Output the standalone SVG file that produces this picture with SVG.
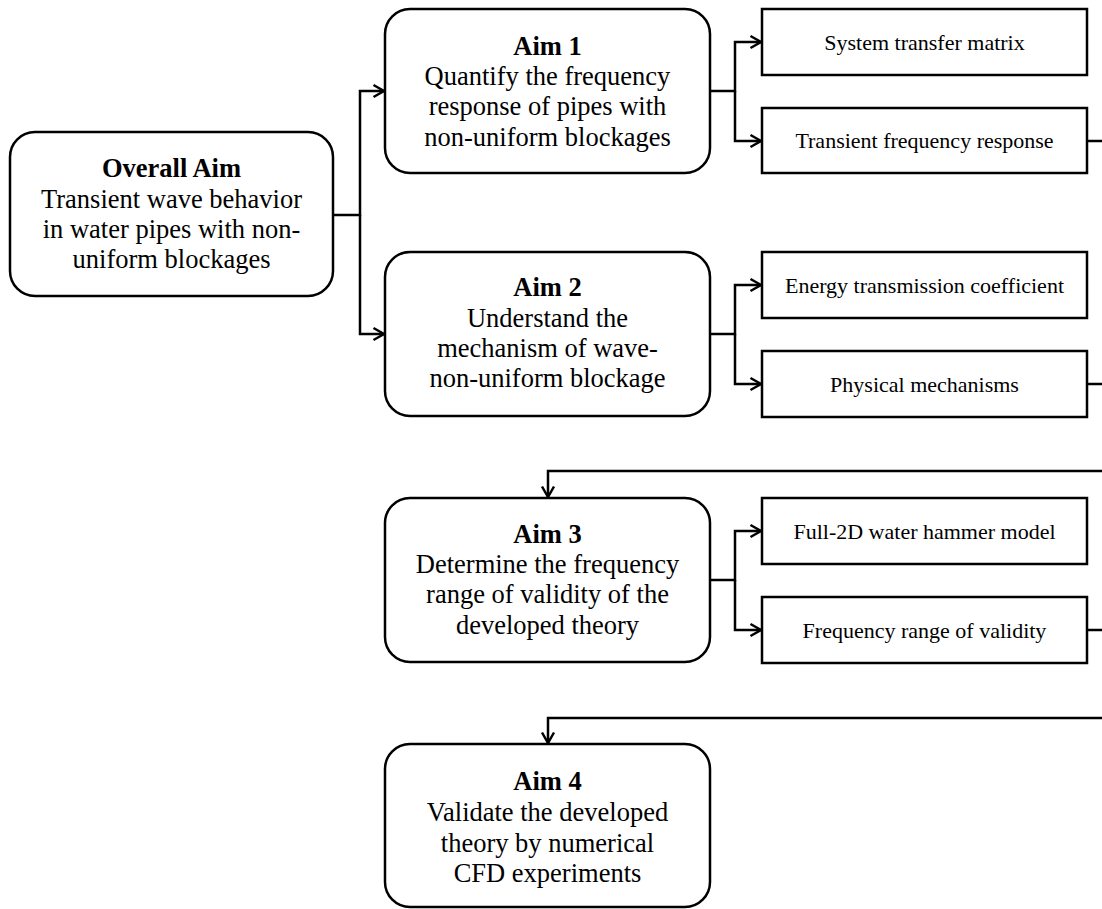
<svg xmlns="http://www.w3.org/2000/svg" width="1102" height="909" viewBox="0 0 1102 909">
<style>
.aim{fill:#fff;stroke:#000;stroke-width:2.5}
.sub{fill:#fff;stroke:#000;stroke-width:2.5}
.t{font-family:"Liberation Serif","Times New Roman",serif;font-size:26.5px;fill:#000;text-anchor:middle}
.b{font-weight:bold}
.s{font-family:"Liberation Serif","Times New Roman",serif;font-size:22px;fill:#000;text-anchor:middle}
.c{fill:none;stroke:#000;stroke-width:2.5}
.a{marker-end:url(#arr)}
</style>
<defs>
<marker id="arr" markerUnits="userSpaceOnUse" viewBox="0 0 14 14" refX="12" refY="7" markerWidth="14" markerHeight="14" orient="auto" overflow="visible">
<path d="M1.5,1 L12,7 L1.5,13" fill="none" stroke="#000" stroke-width="2.5"/>
</marker>
</defs>
<g id="connectors">
<path class="c a" d="M333 215 H360 V91 H384"/>
<path class="c a" d="M360 215 V334 H384"/>
<path class="c a" d="M710 91 H735 V42 H761"/>
<path class="c a" d="M735 91 V141 H761"/>
<path class="c a" d="M710 334 H735 V285 H761"/>
<path class="c a" d="M735 334 V384 H761"/>
<path class="c a" d="M710 580 H735 V531 H761"/>
<path class="c a" d="M735 580 V630 H761"/>
<path class="c" d="M1087 141 H1102"/>
<path class="c" d="M1087 384 H1102"/>
<path class="c" d="M1087 630 H1102"/>
<path class="c a" d="M1102 471 H548 V497"/>
<path class="c a" d="M1102 718 H548 V743"/>
</g>
<g id="overall">
<rect class="aim" x="10" y="132" width="323" height="164" rx="25"/>
<text class="t b" x="171.5" y="177">Overall Aim</text>
<text class="t" x="171.5" y="208">Transient wave behavior</text>
<text class="t" x="171.5" y="238">in water pipes with non-</text>
<text class="t" x="171.5" y="268">uniform blockages</text>
</g>
<g id="aim1">
<rect class="aim" x="385" y="9" width="325" height="164" rx="25"/>
<text class="t b" x="547.5" y="55">Aim 1</text>
<text class="t" x="547.5" y="85">Quantify the frequency</text>
<text class="t" x="547.5" y="115">response of pipes with</text>
<text class="t" x="547.5" y="146">non-uniform blockages</text>
</g>
<g id="aim2">
<rect class="aim" x="385" y="252" width="325" height="164" rx="25"/>
<text class="t b" x="547.5" y="296">Aim 2</text>
<text class="t" x="547.5" y="327">Understand the</text>
<text class="t" x="547.5" y="357">mechanism of wave-</text>
<text class="t" x="547.5" y="387">non-uniform blockage</text>
</g>
<g id="aim3">
<rect class="aim" x="385" y="498" width="325" height="164" rx="25"/>
<text class="t b" x="547.5" y="543">Aim 3</text>
<text class="t" x="547.5" y="573">Determine the frequency</text>
<text class="t" x="547.5" y="603">range of validity of the</text>
<text class="t" x="547.5" y="634">developed theory</text>
</g>
<g id="aim4">
<rect class="aim" x="385" y="744" width="325" height="163" rx="25"/>
<text class="t b" x="547.5" y="790">Aim 4</text>
<text class="t" x="547.5" y="821">Validate the developed</text>
<text class="t" x="547.5" y="852">theory by numerical</text>
<text class="t" x="547.5" y="882">CFD experiments</text>
</g>
<g id="sub1a">
<rect class="sub" x="762" y="9" width="325" height="66"/>
<text class="s" x="924.5" y="50">System transfer matrix</text>
</g>
<g id="sub1b">
<rect class="sub" x="762" y="108" width="325" height="65"/>
<text class="s" x="924.5" y="148">Transient frequency response</text>
</g>
<g id="sub2a">
<rect class="sub" x="762" y="252" width="325" height="66"/>
<text class="s" x="924.5" y="293">Energy transmission coefficient</text>
</g>
<g id="sub2b">
<rect class="sub" x="762" y="351" width="325" height="66"/>
<text class="s" x="924.5" y="392">Physical mechanisms</text>
</g>
<g id="sub3a">
<rect class="sub" x="762" y="498" width="325" height="66"/>
<text class="s" x="924.5" y="539">Full-2D water hammer model</text>
</g>
<g id="sub3b">
<rect class="sub" x="762" y="597" width="325" height="66"/>
<text class="s" x="924.5" y="638">Frequency range of validity</text>
</g>
</svg>
